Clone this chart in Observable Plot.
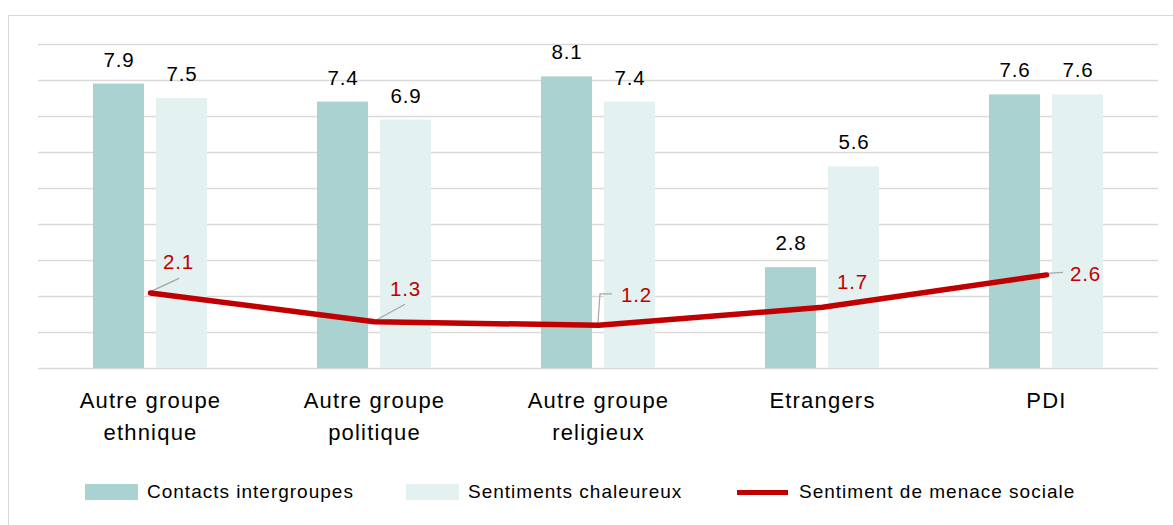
<!DOCTYPE html>
<html><head><meta charset="utf-8">
<script src="https://cdn.jsdelivr.net/npm/d3@7"></script>
<script src="https://cdn.jsdelivr.net/npm/@observablehq/plot@0.6"></script>
<style>
html,body{margin:0;padding:0;background:#fff;width:1173px;height:525px;overflow:hidden;font-family:"Liberation Sans",Arial,sans-serif;}
#frame{position:absolute;left:8px;top:15px;width:1200px;height:520px;border:1.5px solid #d9d9d9;box-sizing:border-box;}
#chart{position:absolute;left:0;top:0;}
#chart text{letter-spacing:0.8px;}
#chart text.cat{letter-spacing:1.2px;}
#legend{position:absolute;top:481px;left:0;width:1173px;height:22px;font-size:19px;letter-spacing:1px;color:#000;}
.item{position:absolute;top:0;display:flex;align-items:center;height:22px;white-space:nowrap;}
.sw{width:53px;height:16px;margin-right:9px;}
.ln{width:51px;height:5px;margin-right:11px;}
</style></head><body>
<div id="frame"></div><div id="chart"></div><div id="legend"></div>
<script>
// ---- data ----
const categories = ["Autre groupe\nethnique", "Autre groupe\npolitique", "Autre groupe\nreligieux", "Etrangers", "PDI"];
const contacts = [7.9, 7.4, 8.1, 2.8, 7.6];
const chaleureux = [7.5, 6.9, 7.4, 5.6, 7.6];
const menace = [2.1, 1.3, 1.2, 1.7, 2.6];
const yTicks = [0, 1, 2, 3, 4, 5, 6, 7, 8, 9];
const seriesNames = ["Contacts intergroupes", "Sentiments chaleureux", "Sentiment de menace sociale"];

// ---- styles ----
const colors = ["#a9d2d0", "#e4f1f1", "#c00000"];
const lineLabelOffsets = [[28, -30], [31, -32], [38, -30], [30, -24.5], [39, 0]];
const leaderPaths = [
  [[1, -1], [29, -14]],
  [[0, 0], [31, -17]],
  [[0, -2], [2, -31], [14, -31]],
  null,
  [[1, -1], [17, -2]]
];

const rows = categories.map((c, i) => ({cat: c, contacts: contacts[i], chaleureux: chaleureux[i], menace: menace[i]}));
const fmt = v => v.toFixed(1);

const plot = Plot.plot({
  width: 1173,
  height: 460,
  marginLeft: 38,
  marginRight: 15,
  marginTop: 44,
  marginBottom: 92,
  style: {fontFamily: '"Liberation Sans", Arial, sans-serif', background: "transparent", color: "#000"},
  x: {domain: categories, padding: 0, axis: null},
  y: {domain: [0, 9], axis: null},
  marks: [
    Plot.ruleY(yTicks, {stroke: "#d9d9d9", strokeWidth: 1.5}),
    Plot.barY(rows, {x: "cat", y: "contacts", fill: colors[0], insetLeft: 55, insetRight: 118}),
    Plot.barY(rows, {x: "cat", y: "chaleureux", fill: colors[1], insetLeft: 118, insetRight: 55}),
    Plot.text(rows, {x: "cat", y: "contacts", text: d => fmt(d.contacts), dx: -31.5, dy: -24, fontSize: 20.5, fill: "#000", lineAnchor: "middle"}),
    Plot.text(rows, {x: "cat", y: "chaleureux", text: d => fmt(d.chaleureux), dx: 31.5, dy: -24, fontSize: 20.5, fill: "#000", lineAnchor: "middle"}),
    Plot.line(rows, {x: "cat", y: "menace", stroke: colors[2], strokeWidth: 5.5, strokeLinejoin: "round"}),
    ...rows.map((r, i) => Plot.text([r], {x: "cat", y: "menace", text: d => fmt(d.menace), dx: lineLabelOffsets[i][0], dy: lineLabelOffsets[i][1], fontSize: 20.5, fill: colors[2], lineAnchor: "middle"})),
    Plot.text(rows, {x: "cat", y: () => 0, text: "cat", dy: 17, fontSize: 22, fill: "#000", lineAnchor: "top", lineHeight: 1.45, className: "cat"})
  ]
});
document.getElementById("chart").appendChild(plot);
// class on category labels for letter spacing
d3.select(plot).selectAll("g").filter(function() { return this.getAttribute("class") && this.getAttribute("class").includes("cat"); }).selectAll("text").classed("cat", true);

// leader lines computed through Plot's own scales
const xs = plot.scale("x"), ys = plot.scale("y");
const svg = d3.select(plot);
const gl = svg.insert("g", 'g[aria-label="line"]').attr("aria-label", "leaders");
rows.forEach((r, i) => {
  const p = leaderPaths[i];
  if (!p) return;
  const px = xs.apply(r.cat) + xs.bandwidth / 2, py = ys.apply(r.menace);
  gl.append("path")
    .attr("d", d3.line()(p.map(([dx, dy]) => [px + dx, py + dy])))
    .attr("fill", "none").attr("stroke", "#a6a6a6").attr("stroke-width", 1.2);
});

// legend
const legend = document.getElementById("legend");
const lefts = [85, 406, 737];
seriesNames.forEach((n, i) => {
  const it = document.createElement("div");
  it.className = "item";
  it.style.left = lefts[i] + "px";
  const sw = document.createElement("div");
  sw.className = i < 2 ? "sw" : "ln";
  sw.style.background = colors[i];
  const t = document.createElement("span");
  t.textContent = n;
  it.appendChild(sw); it.appendChild(t);
  legend.appendChild(it);
});
</script>
</body></html>
